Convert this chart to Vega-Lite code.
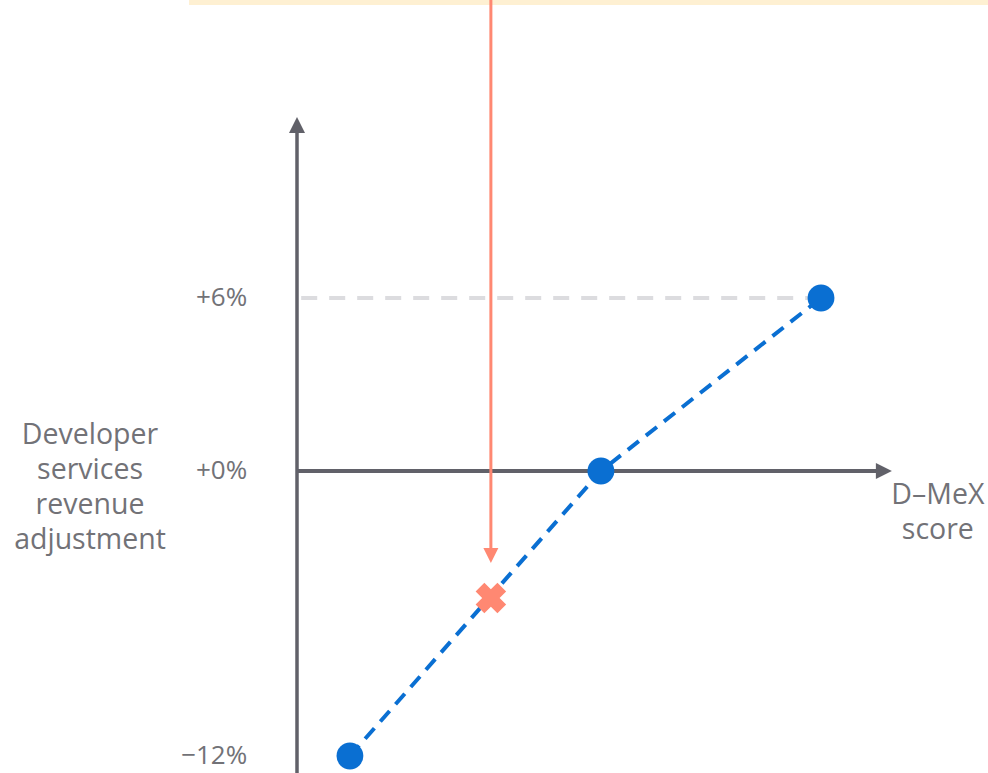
{
  "$schema": "https://vega.github.io/schema/vega-lite/v6.json",
  "width": 988,
  "height": 773,
  "padding": 0,
  "autosize": {"type": "none"},
  "background": "white",
  "config": {
    "view": {"stroke": null},
    "text": {"font": "Open Sans", "fontWeight": 400, "fontSize": 26, "fill": "#727277", "lineBreak": "\n", "lineHeight": 35}
  },
  "encoding": {
    "x": {"field": "score", "type": "quantitative", "axis": null,
          "scale": {"domain": [-56.68, 131.87], "nice": false, "zero": false}},
    "y": {"field": "pct", "type": "quantitative", "axis": null,
          "scale": {"domain": [-12, 0, 6], "range": [756, 471, 298], "nice": false, "zero": false}}
  },
  "layer": [
    {
      "data": {"values": [{"score": -20.6, "score2": 140, "pct": 16.6, "pct2": 16.16}]},
      "mark": {"type": "rect", "color": "#fef0d2"},
      "encoding": {"x2": {"field": "score2"}, "y2": {"field": "pct2"}}
    },
    {
      "data": {"values": [{"score": 0.8, "score2": 100, "pct": 6}]},
      "mark": {"type": "rule", "color": "#dcdcdf", "strokeWidth": 4, "strokeDash": [16, 12]},
      "encoding": {"x2": {"field": "score2"}}
    },
    {
      "data": {"values": [{"score": 0, "pct": -13.5, "pct2": 11.8}]},
      "mark": {"type": "rule", "color": "#616169", "strokeWidth": 3.5},
      "encoding": {"y2": {"field": "pct2"}}
    },
    {
      "data": {"values": [{"score": 0, "score2": 111.5, "pct": 0}]},
      "mark": {"type": "rule", "color": "#616169", "strokeWidth": 4},
      "encoding": {"x2": {"field": "score2"}}
    },
    {
      "data": {"values": [{"score": 0, "pct": 12}]},
      "mark": {"type": "point", "shape": "M0,-1L1,1L-1,1Z", "size": 256, "filled": true, "opacity": 1, "color": "#616169"}
    },
    {
      "data": {"values": [{"score": 112, "pct": 0}]},
      "mark": {"type": "point", "shape": "M1,0L-1,-1L-1,1Z", "size": 256, "filled": true, "opacity": 1, "color": "#616169"}
    },
    {
      "data": {"values": [{"score": 37, "pct": 17, "pct2": -3.3}]},
      "mark": {"type": "rule", "color": "#ff8872", "strokeWidth": 3},
      "encoding": {"y2": {"field": "pct2"}}
    },
    {
      "data": {"values": [{"score": 37, "pct": -3.56}]},
      "mark": {"type": "point", "shape": "M-1,-1L1,-1L0,1Z", "size": 225, "filled": true, "opacity": 1, "color": "#ff8872"}
    },
    {
      "data": {"values": [
        {"score": 10.1, "pct": -12},
        {"score": 58, "pct": 0},
        {"score": 100, "pct": 6}
      ]},
      "layer": [
        {"mark": {"type": "line", "color": "#0a6fd2", "strokeWidth": 4, "strokeDash": [14, 9]}},
        {"mark": {"type": "point", "shape": "circle", "size": 720, "filled": true, "opacity": 1, "color": "#0a6fd2"}}
      ]
    },
    {
      "data": {"values": [{"score": 37, "pct": -5.35}]},
      "mark": {"type": "point", "shape": "cross", "angle": 45, "size": 950, "filled": true, "opacity": 1, "color": "#ff8872"}
    },
    {
      "data": {"values": [
        {"score": -9.5, "pct": 6, "label": "+6%"},
        {"score": -9.5, "pct": 0, "label": "+0%"},
        {"score": -9.5, "pct": -12, "label": "−12%"}
      ]},
      "mark": {"type": "text", "align": "right", "baseline": "middle"},
      "encoding": {"text": {"field": "label"}}
    },
    {
      "data": {"values": [
        {"score": -39.5, "pct": 1.25, "label": "Developer\nservices\nrevenue\nadjustment"},
        {"score": 122.3, "pct": -1.01, "label": "D–MeX\nscore"}
      ]},
      "mark": {"type": "text", "align": "center", "baseline": "middle", "fontSize": 28.5},
      "encoding": {"text": {"field": "label"}}
    }
  ]
}
